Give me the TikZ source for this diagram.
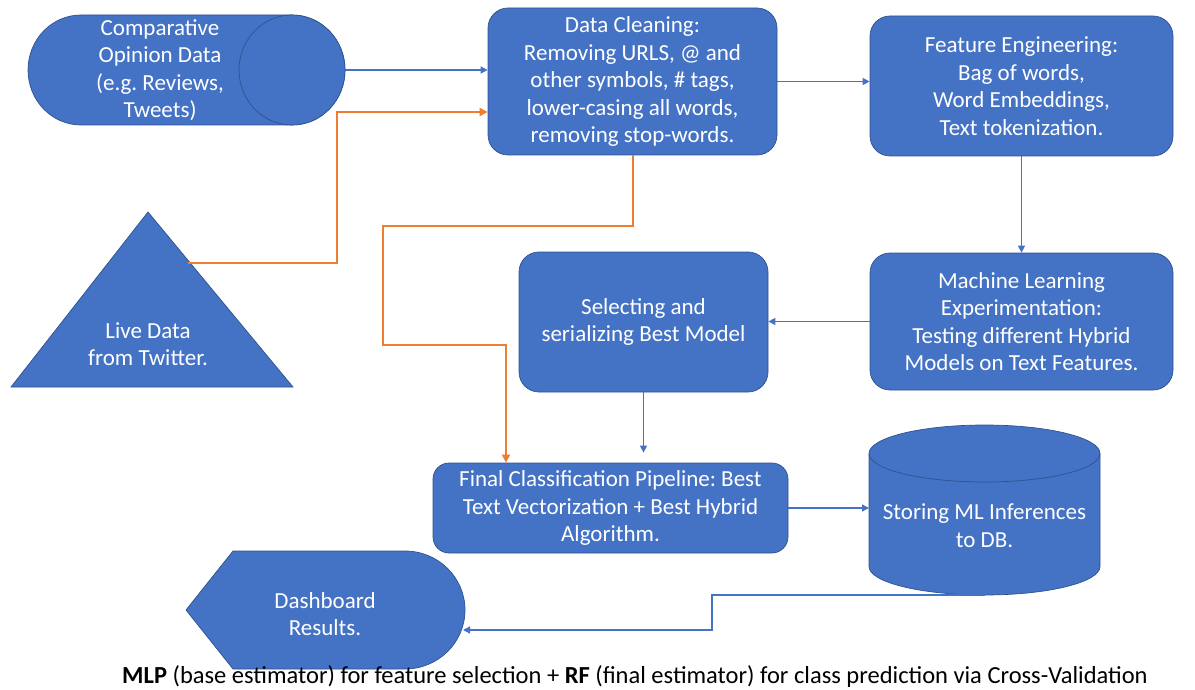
\documentclass[tikz,border=0pt]{standalone}
\usepackage{fontspec}
\setmainfont{Carlito}
\frenchspacing
\usetikzlibrary{positioning,arrows.meta}
\definecolor{boxColor}{RGB}{68,114,196}
\definecolor{borderColor}{RGB}{47,82,143}
\definecolor{feedColor}{RGB}{237,125,49}
\newcommand{\boxFont}{\fontsize{23}{27.5}\selectfont}
\tikzstyle{stepBox} = [draw=borderColor, fill=boxColor, line width=.7pt, rounded corners=20pt, inner sep=0pt, text=white, align=center, font=\boxFont]
\tikzstyle{shapeStyle} = [draw=borderColor, fill=boxColor, line width=.7pt]
\tikzstyle{shapeText} = [text=white, align=center, font=\boxFont]
\tikzstyle{flowLine} = [draw=boxColor, line width=1.3pt, -{Triangle[length=7pt,width=7pt]}]
\tikzstyle{feedLine} = [draw=feedColor, line width=2pt, -{Triangle[length=8pt,width=8pt]}]

\begin{document}
\begin{tikzpicture}[x=1pt, y=-1pt]
  \useasboundingbox (0,0) rectangle (1195,690);

  \filldraw [shapeStyle] (81,15) arc [start angle=270, end angle=90, x radius=53, y radius=55]
    -- (292,125) arc [start angle=90, end angle=-90, x radius=53, y radius=55] -- cycle;
  \draw [shapeStyle] (292,70) ellipse [x radius=53, y radius=55];
  \node [shapeText] (opinion) at (160,70) {Comparative\\Opinion Data\\(e.g. Reviews,\\Tweets)};
  \coordinate (opinionEnd) at (345,70);

  \filldraw [shapeStyle] (148,212) -- (293,387) -- (11,387) -- cycle;
  \node [shapeText] (live) at (148,344) {Live Data\\from Twitter.};
  \coordinate (liveHook) at (188,263);

  \node [stepBox, minimum width=289, minimum height=147] (cleaning) at (632.5,81.5)
    {Data Cleaning:\\Removing URLS, @ and\\other symbols, \# tags,\\lower-casing all words,\\removing stop-words.};
  \node [stepBox, minimum width=303, minimum height=140] (feature) at (1021.5,86)
    {Feature Engineering:\\Bag of words,\\Word Embeddings,\\Text tokenization.};
  \node [stepBox, minimum width=303, minimum height=137] (learning) at (1021.5,321.5)
    {Machine Learning\\Experimentation:\\Testing different Hybrid\\Models on Text Features.};
  \node [stepBox, minimum width=249, minimum height=140] (selecting) at (643.5,322)
    {Selecting and\\serializing Best Model};
  \node [stepBox, rounded corners=16pt, minimum width=355, minimum height=90] (pipeline) at (610.5,508)
    {Final Classification Pipeline: Best\\Text Vectorization + Best Hybrid\\Algorithm.};

  \filldraw [shapeStyle] (869,453.5) -- (869,566.5)
    arc [start angle=180, end angle=0, x radius=115.5, y radius=28.5]
    -- (1100,453.5) arc [start angle=0, end angle=-180, x radius=115.5, y radius=28.5] -- cycle;
  \draw [shapeStyle] (869,453.5) arc [start angle=180, end angle=0, x radius=115.5, y radius=28.5];
  \node [shapeText] (store) at (984.5,525.5) {Storing ML Inferences\\to DB.};
  \coordinate (storeWest) at (869,508);
  \coordinate (storeBottom) at (984.5,595);

  \filldraw [shapeStyle] (186,610) -- (233,551) -- (405,551)
    arc [start angle=-90, end angle=90, x radius=60, y radius=59] -- (233,669) -- cycle;
  \node [shapeText] (dashboard) at (325,614) {Dashboard\\Results.};
  \coordinate (dashRight) at (463,630);

  \draw [flowLine] (opinionEnd) -- (cleaning.west |- opinionEnd);
  \draw [flowLine] (cleaning.east) -- (cleaning.east -| feature.west);
  \draw [flowLine] (feature.south) -- (learning.north);
  \draw [flowLine] (learning.west) -- (learning.west -| selecting.east);
  \draw [flowLine, shorten >=10pt] (selecting.south) -- (selecting.south |- pipeline.north);
  \draw [flowLine] (pipeline.east) -- (pipeline.east -| storeWest);
  \draw [flowLine] (storeBottom) -- ++(-272.5,0) |- (dashRight);

  \draw [feedLine] (liveHook) -- ++(149,0) |- ([yshift=-30.5pt]cleaning.west);
  \draw [feedLine] (cleaning.south) -- ++(0,71) -| (383,345) -| ([xshift=-104.5pt]pipeline.north);

  \node [font=\fontsize{24.5}{28}\selectfont] (caption) at (635,677)
    {\textbf{MLP} (base estimator) for feature selection + \textbf{RF} (final estimator) for class prediction via Cross-Validation};
\end{tikzpicture}
\end{document}
